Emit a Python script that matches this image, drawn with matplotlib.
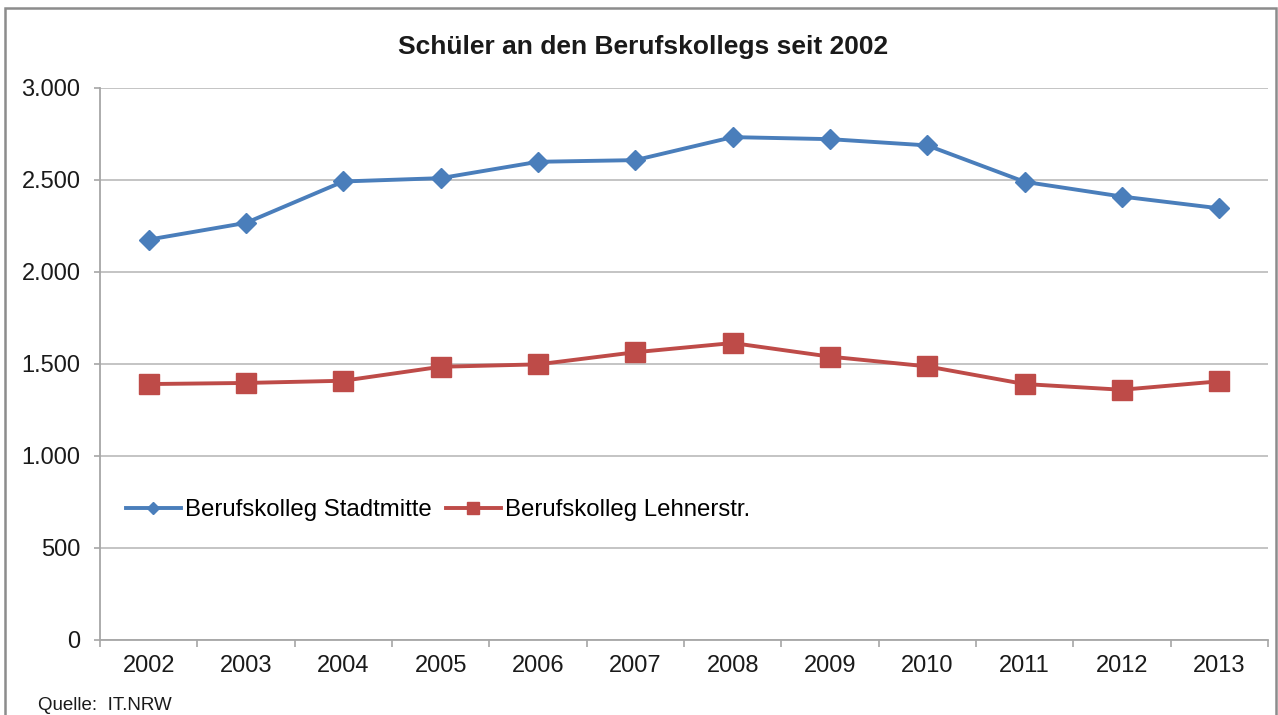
import matplotlib
matplotlib.use('Agg')
import matplotlib.pyplot as plt
from matplotlib.patches import Rectangle
from matplotlib.ticker import FuncFormatter, MultipleLocator
import numpy as np

plt.rcParams['font.family'] = ['Liberation Sans', 'DejaVu Sans']

# Daten
jahre = ['2002', '2003', '2004', '2005', '2006', '2007',
         '2008', '2009', '2010', '2011', '2012', '2013']
stadtmitte = [2176, 2267, 2492, 2510, 2599, 2608, 2733, 2722, 2688, 2490, 2410, 2346]
lehnerstr = [1391, 1397, 1409, 1485, 1498, 1564, 1614, 1540, 1487, 1391, 1360, 1406]

blau = '#4a7ebb'
rot = '#be4b48'
grau = '#bfbfbf'

fig = plt.figure(figsize=(12.78, 7.15), dpi=100)
ax = fig.add_axes([100 / 1278, 1 - 640 / 715, 1168 / 1278, 552 / 715])

x = np.arange(len(jahre))
ax.plot(x, stadtmitte, color=blau, lw=2.8, marker='D', ms=10,
        label='Berufskolleg Stadtmitte', zorder=3)
ax.plot(x, lehnerstr, color=rot, lw=2.8, marker='s', ms=14.5,
        label='Berufskolleg Lehnerstr.', zorder=3)

ax.set_xlim(-0.5, len(jahre) - 0.5)
ax.set_ylim(0, 3000)
ax.yaxis.set_major_locator(MultipleLocator(500))
ax.yaxis.set_major_formatter(FuncFormatter(lambda v, p: f'{int(v):,}'.replace(',', '.')))
ax.set_xticks(x)
ax.set_xticklabels(jahre)
ax.set_xticks(np.arange(-0.5, len(jahre), 1), minor=True)

ax.grid(axis='y', color=grau, lw=1.3, zorder=0)
for s in ['top', 'right']:
    ax.spines[s].set_visible(False)
for s in ['left', 'bottom']:
    ax.spines[s].set_color('#a6a6a6')
    ax.spines[s].set_linewidth(1.3)

ax.tick_params(axis='x', which='major', length=0, pad=11, labelsize=17, labelcolor='#1a1a1a')
ax.tick_params(axis='x', which='minor', length=5, width=1.2, color='#a6a6a6', direction='out')
ax.tick_params(axis='y', length=4, width=1.2, color='#a6a6a6', pad=10, labelsize=17,
               labelcolor='#1a1a1a')

ax.legend(loc='center left', bbox_to_anchor=(0.022, 0.2355), ncol=2, frameon=False,
          fontsize=17.3, handlelength=2.3, handletextpad=0.15, columnspacing=0.6,
          borderpad=0, borderaxespad=0, markerscale=0.6)

fig.text(643 / 1278, 1 - 47 / 715, 'Schüler an den Berufskollegs seit 2002',
         ha='center', va='center', fontsize=19, fontweight='bold', color='#1a1a1a')
fig.text(38 / 1278, 1 - 705 / 715, 'Quelle:  IT.NRW', ha='left', va='center',
         fontsize=13.5, color='#1a1a1a')

# Rahmen
fig.patches.append(Rectangle((5 / 1278, -0.05), 1271 / 1278, 1.05 - 8 / 715,
                             transform=fig.transFigure, fill=False,
                             edgecolor='#8c8c8c', lw=1.8))

fig.savefig('out.png', dpi=100)
